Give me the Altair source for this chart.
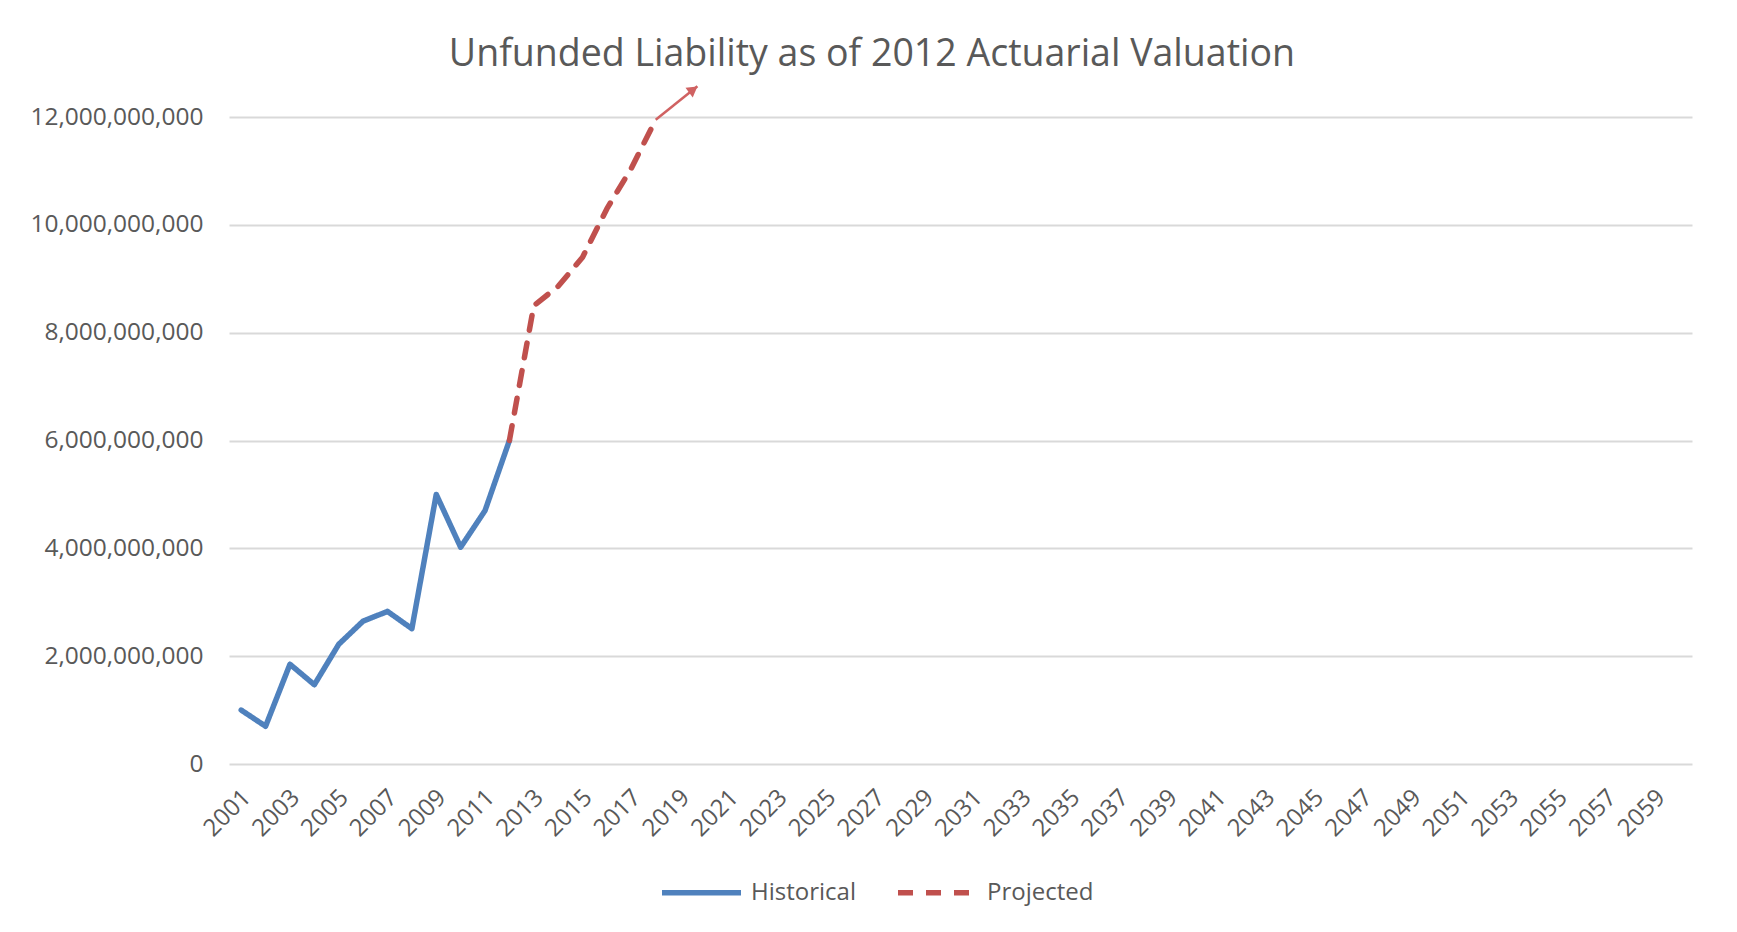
import altair as alt
import pandas as pd

# ---- data ----
hist_years = list(range(2001, 2013))
hist_values = [1.00e9, 0.70e9, 1.85e9, 1.47e9, 2.22e9, 2.65e9, 2.83e9, 2.51e9,
               5.00e9, 4.02e9, 4.70e9, 6.00e9]
proj_years = list(range(2012, 2019))
proj_values = [6.00e9, 8.50e9, 8.86e9, 9.40e9, 10.30e9, 11.05e9, 11.95e9]

series_names = ["Historical", "Projected"]
series_colors = ["#4F81BD", "#C0504D"]

x_tick_years = list(range(2001, 2060, 2))
x_domain = [2000.5, 2060.5]
y_ticks = [0, 2e9, 4e9, 6e9, 8e9, 10e9, 12e9]
y_domain = [0, 12e9]

# annotation arrow (drawn shape on the original chart)
arrow_years = [2018.0, 2019.71]
arrow_values = [11.95e9, 12.57e9]
arrow_head_year = [2019.54]
arrow_head_value = [12.51e9]

title_text = "Unfunded Liability as of 2012 Actuarial Valuation"
FONT = "Open Sans"
TEXT_COLOR = "#595959"

# ---- tables ----
lines_df = pd.DataFrame({
    "year": hist_years + proj_years,
    "value": hist_values + proj_values,
    "series": [series_names[0]] * len(hist_years) + [series_names[1]] * len(proj_years),
})
arrow_df = pd.DataFrame({"year": arrow_years, "value": arrow_values})
head_df = pd.DataFrame({"year": arrow_head_year, "value": arrow_head_value})

x_enc = alt.X("year:Q",
              scale=alt.Scale(domain=x_domain, nice=False, zero=False),
              axis=alt.Axis(values=x_tick_years, format="d", labelAngle=-45,
                            labelFontSize=24, labelFont=FONT, labelColor=TEXT_COLOR,
                            labelPadding=21, labelOffset=-3, ticks=False, domain=False,
                            grid=False, title=None, labelFlush=False, labelOverlap=False))
y_enc = alt.Y("value:Q",
              scale=alt.Scale(domain=y_domain, nice=False),
              axis=alt.Axis(values=y_ticks, format=",d", labelFontSize=24.5,
                            labelFont=FONT, labelColor=TEXT_COLOR, labelPadding=26,
                            ticks=False, domain=False, grid=True, gridColor="#D9D9D9",
                            gridWidth=1.8, title=None))

legend = alt.Legend(title=None, orient="none", legendX=430, legendY=733,
                    direction="horizontal", symbolType="stroke", symbolSize=6241,
                    symbolStrokeWidth=5.5, labelFontSize=24, labelFont=FONT,
                    labelColor=TEXT_COLOR, columnPadding=31, labelOffset=7)

lines = alt.Chart(lines_df).mark_line(strokeWidth=5.5, strokeCap="round",
                                      strokeJoin="round").encode(
    x=x_enc,
    y=y_enc,
    color=alt.Color("series:N", scale=alt.Scale(domain=series_names, range=series_colors),
                    legend=legend),
    strokeDash=alt.StrokeDash("series:N",
                              scale=alt.Scale(domain=series_names, range=[[1, 0], [15, 13]]),
                              legend=legend),
    order=alt.Order("year:Q"),
)

arrow_line = alt.Chart(arrow_df).mark_line(color="#D06262", strokeWidth=2.5).encode(
    x="year:Q", y="value:Q")
arrow_head = alt.Chart(head_df).mark_point(shape="triangle-up", filled=True, size=144,
                                           angle=53, color="#D06262", opacity=1).encode(
    x="year:Q", y="value:Q")

chart = alt.layer(lines, arrow_line, arrow_head).properties(
    width=1463, height=647,
    padding={"left": 221, "top": 109, "right": 30, "bottom": 150},
    autosize=alt.AutoSizeParams(type="none"),
    background="white",
    title=alt.Title(title_text, fontSize=37.5, font=FONT, color=TEXT_COLOR,
                    fontWeight="normal", anchor="middle", frame="bounds",
                    baseline="alphabetic", offset=0, dy=22, dx=11),
).configure_view(stroke=None)

chart.save("out.html", embed_options={"renderer": "svg", "actions": False})
